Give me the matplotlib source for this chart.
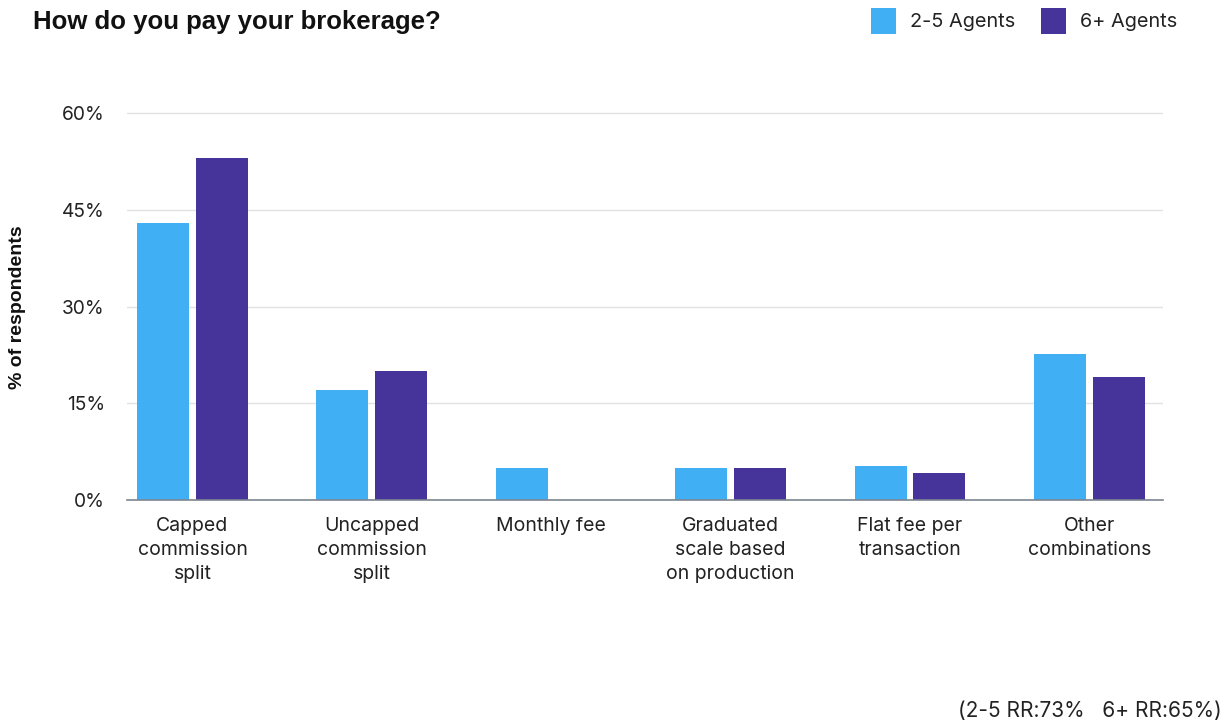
import matplotlib
matplotlib.use("Agg")
import matplotlib.pyplot as plt
from matplotlib.patches import Rectangle
import numpy as np

categories = [
    "Capped\ncommission\nsplit",
    "Uncapped\ncommission\nsplit",
    "Monthly fee",
    "Graduated\nscale based\non production",
    "Flat fee per\ntransaction",
    "Other\ncombinations",
]
series_names = ["2-5 Agents", "6+ Agents"]
small_team = [43, 17, 5, 5, 5.3, 22.6]
large_team = [53, 20, 0, 5, 4.2, 19.1]
y_ticks = [0, 15, 30, 45, 60]
y_tick_labels = ["0%", "15%", "30%", "45%", "60%"]

c_small = "#40AFF3"
c_large = "#46349B"
text_col = "#222222"

W, H = 1232, 724
fig = plt.figure(figsize=(W / 100, H / 100), dpi=100)
ax = fig.add_axes([127 / W, 1 - 500 / H, (1163 - 127) / W, (500 - 113) / H * 61 / 60])

x = np.arange(len(categories))
bw = 0.29
off = 0.164
ax.bar(x - off, small_team, bw, color=c_small, zorder=3)
ax.bar(x + off, large_team, bw, color=c_large, zorder=3)

ax.set_xlim(-0.365, 5.41)
ax.set_ylim(0, 61)
ax.set_yticks(y_ticks)
ax.set_yticklabels(y_tick_labels, fontsize=13.8, family="Inter", color=text_col)
ax.set_xticks(x)
ax.set_xticklabels(categories, fontsize=14, family="Inter", color=text_col, linespacing=1.45)
ax.tick_params(axis="both", length=0)
ax.tick_params(axis="y", pad=16)
ax.tick_params(axis="x", pad=12)
ax.grid(axis="y", color="#e2e2e2", linewidth=1, zorder=0)
for s in ["top", "right", "left"]:
    ax.spines[s].set_visible(False)
ax.spines["bottom"].set_color("#7d8591")
ax.spines["bottom"].set_linewidth(1.2)
ax.spines["bottom"].set_zorder(4)

fig.text(18 / W, 1 - 307 / H, "% of respondents", rotation=90, ha="center", va="center",
         fontsize=14, fontweight="bold", family="Liberation Sans", color="#111111")

fig.text(33 / W, 1 - 22 / H, "How do you pay your brokerage?", ha="left", va="center",
         fontsize=18.5, fontweight="bold", family="Liberation Sans", color="#111111")

# Legend drawn as figure patches and text
for (x0, name, col) in [(871, series_names[0], c_small), (1041, series_names[1], c_large)]:
    fig.patches.append(Rectangle((x0 / W, 1 - 34 / H), 25 / W, 26 / H, transform=fig.transFigure,
                                 facecolor=col, edgecolor="none"))
    fig.text((x0 + 39) / W, 1 - 22 / H, name, ha="left", va="center", fontsize=14.3,
             family="Inter", color=text_col)

fig.text(1222 / W, 1 - 711 / H, "(2-5 RR:73%   6+ RR:65%)", ha="right", va="center",
         fontsize=15, family="Inter", color=text_col)

fig.savefig("out.png", dpi=100)
